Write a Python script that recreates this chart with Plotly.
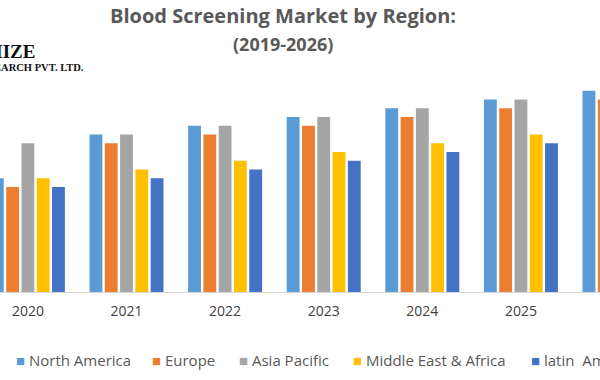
import plotly.graph_objects as go

years = ["2020", "2021", "2022", "2023", "2024", "2025", "2026"]
north_america = [13, 18, 19, 20, 21, 22, 23]
europe = [12, 17, 18, 19, 20, 21, 22]
asia_pacific = [17, 18, 19, 20, 21, 22, 23]
middle_east_africa = [13, 14, 15, 16, 17, 18, 19]
latin_america = [12, 13, 14, 15, 16, 17, 18]

series = [
    ("North America", north_america, "#5B9BD5"),
    ("Europe", europe, "#ED7D31"),
    ("Asia Pacific", asia_pacific, "#A5A5A5"),
    ("Middle East & Africa", middle_east_africa, "#FFC000"),
    ("latin\u00a0 America", latin_america, "#4472C4"),
]

fig = go.Figure()
for name, vals, col in series:
    fig.add_trace(go.Bar(x=years, y=vals, name=name, marker_color=col,
                         marker_line_width=0, showlegend=False))

W = 600
plot_top, plot_bottom = 60, 292
ph = plot_bottom - plot_top


def py(pix):
    return (plot_bottom - pix) / ph


legend_left = [14, 150, 237, 351, 529]
annotations = []
for (name, vals, col), lx in zip(series, legend_left):
    annotations.append(dict(
        x=lx / W, y=py(360), xref="paper", yref="paper",
        text=f'<span style="color:{col}">■</span> {name}',
        showarrow=False, xanchor="left", yanchor="middle",
        font=dict(family="Open Sans", size=15, color="#595959")))

annotations += [
    dict(x=283 / W, y=py(16), xref="paper", yref="paper", showarrow=False,
         text="<b>Blood Screening Market by Region:</b>", xanchor="center", yanchor="middle",
         font=dict(family="Open Sans", size=20, color="#595959")),
    dict(x=283 / W, y=py(44), xref="paper", yref="paper", showarrow=False,
         text="<b>(2019-2026)</b>", xanchor="center", yanchor="middle",
         font=dict(family="Open Sans", size=18, color="#595959")),
    dict(x=36 / W, y=py(52), xref="paper", yref="paper", showarrow=False,
         text="<b>MAXIMIZE</b>", xanchor="right", yanchor="middle", borderpad=0,
         font=dict(family="Liberation Serif", size=19, color="#111111")),
    dict(x=85 / W, y=py(68), xref="paper", yref="paper", showarrow=False,
         text="<b>MARKET RESEARCH PVT. LTD.</b>", xanchor="right", yanchor="middle", borderpad=0,
         font=dict(family="Liberation Serif", size=10.5, color="#111111")),
]

fig.update_layout(
    width=600, height=380,
    margin=dict(l=0, r=0, t=plot_top, b=380 - plot_bottom),
    plot_bgcolor="white", paper_bgcolor="white",
    barmode="group", bargap=0.225, bargroupgap=0.16,
    annotations=annotations,
    xaxis=dict(range=[-0.283, 5.802], showline=True, linecolor="#D9D9D9", linewidth=1,
               ticks="", showgrid=False, ticklabelstandoff=6,
               tickfont=dict(family="Open Sans", size=14, color="#404040")),
    yaxis=dict(range=[0, 26.5], visible=False, showgrid=False),
)

fig.write_html("out.html", config={"displayModeBar": False},
               post_script="document.body.style.margin='0';document.body.style.overflow='hidden';")
